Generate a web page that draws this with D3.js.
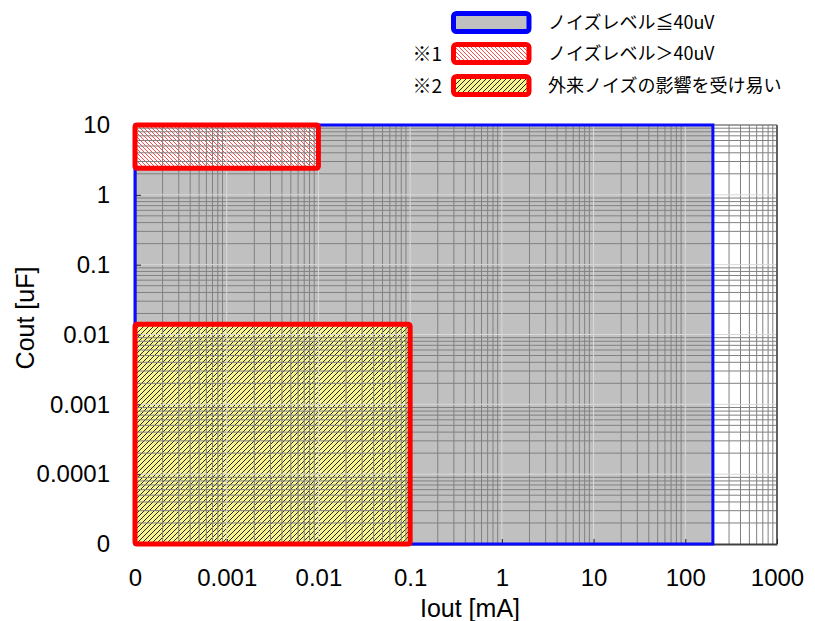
<!DOCTYPE html>
<html>
<head>
<meta charset="utf-8">
<script src="https://cdnjs.cloudflare.com/ajax/libs/d3/7.8.5/d3.min.js"></script>
<style>
  body { margin: 0; background: #fff; }
  text { font-family: "Liberation Sans", Arial, sans-serif; }
  text.jp { font-family: "Noto Sans CJK JP", sans-serif; }
</style>
</head>
<body>
<div id="chart"></div>
<script>

// x axis: Iout [mA], y axis: Cout [uF] (lowest decade is labelled "0")
var xTickValues = [0.0001, 0.001, 0.01, 0.1, 1, 10, 100, 1000];
var xTickLabels = ["0", "0.001", "0.01", "0.1", "1", "10", "100", "1000"];
var yTickValues = [0.00001, 0.0001, 0.001, 0.01, 0.1, 1, 10];
var yTickLabels = ["0", "0.0001", "0.001", "0.01", "0.1", "1", "10"];

// regions: [x0, x1, y0, y1]
var regionQuiet = [0.0001, 200, 0.00001, 10];       // ノイズレベル≦40uV
var regionNoisy = [0.0001, 0.01, 2.4, 10];          // ノイズレベル＞40uV
var regionExternal = [0.0001, 0.1, 0.00001, 0.014]; // 外来ノイズの影響を受け易い

var legendLabels = ["ノイズレベル≦40uV", "ノイズレベル＞40uV", "外来ノイズの影響を受け易い"];
var legendNotes = ["", "※1", "※2"];

var W = 815, H = 621;
var margin = { top: 125, right: 38, bottom: 77, left: 135 };

var svg = d3.select("#chart").append("svg")
    .attr("width", W)
    .attr("height", H);

var x = d3.scaleLog()
    .domain([0.0001, 1000])
    .range([margin.left, W - margin.right]);

var y = d3.scaleLog()
    .domain([0.00001, 10])
    .range([H - margin.bottom, margin.top]);

// patterns
var defs = svg.append("defs");

var pRed = defs.append("pattern")
    .attr("id", "hatchRed")
    .attr("patternUnits", "userSpaceOnUse")
    .attr("width", 4).attr("height", 4);
pRed.append("rect").attr("width", 4).attr("height", 4).attr("fill", "#fff");
pRed.append("path")
    .attr("d", "M-1,-1 L5,5 M-1,3 L1,5 M3,-1 L5,1")
    .attr("stroke", "#ff2020")
    .attr("stroke-width", 0.8);

var pYel = defs.append("pattern")
    .attr("id", "hatchYellow")
    .attr("patternUnits", "userSpaceOnUse")
    .attr("width", 5).attr("height", 5);
pYel.append("rect").attr("width", 5).attr("height", 5).attr("fill", "#f8f490");
pYel.append("path")
    .attr("d", "M-1,6 L6,-1 M-1,1 L1,-1 M4,6 L6,4")
    .attr("stroke", "#111")
    .attr("stroke-width", 0.9);

function regionRect(sel, r) {
    return sel
        .attr("x", x(r[0]))
        .attr("y", y(r[3]))
        .attr("width", x(r[1]) - x(r[0]))
        .attr("height", y(r[2]) - y(r[3]));
}

// fills
regionRect(svg.append("rect"), regionQuiet).attr("fill", "#c0c0c0");
regionRect(svg.append("rect"), regionNoisy).attr("fill", "url(#hatchRed)");
regionRect(svg.append("rect"), regionExternal).attr("fill", "url(#hatchYellow)");

// grid - minor lines darker, decade lines lighter
var xMinor = [], yMinor = [];
for (var d = -4; d < 3; d++) {
    for (var k = 2; k <= 9; k++) xMinor.push(k * Math.pow(10, d));
}
for (var d = -5; d < 1; d++) {
    for (var k = 2; k <= 9; k++) yMinor.push(k * Math.pow(10, d));
}

var grid = svg.append("g");

grid.selectAll(".vminor").data(xMinor).enter().append("line")
    .attr("x1", d => x(d)).attr("x2", d => x(d))
    .attr("y1", margin.top).attr("y2", H - margin.bottom)
    .attr("stroke", "#808080").attr("stroke-width", 1);

grid.selectAll(".hminor").data(yMinor).enter().append("line")
    .attr("y1", d => y(d)).attr("y2", d => y(d))
    .attr("x1", margin.left).attr("x2", W - margin.right)
    .attr("stroke", "#808080").attr("stroke-width", 1);

grid.selectAll(".vmajor").data(xTickValues.slice(1, -1)).enter().append("line")
    .attr("x1", d => x(d)).attr("x2", d => x(d))
    .attr("y1", margin.top).attr("y2", H - margin.bottom)
    .attr("stroke", "#d8d8d8").attr("stroke-width", 1);

grid.selectAll(".hmajor").data(yTickValues.slice(1, -1)).enter().append("line")
    .attr("y1", d => y(d)).attr("y2", d => y(d))
    .attr("x1", margin.left).attr("x2", W - margin.right)
    .attr("stroke", "#d8d8d8").attr("stroke-width", 1);

// frame
svg.append("line")
    .attr("x1", margin.left).attr("x2", W - margin.right)
    .attr("y1", margin.top).attr("y2", margin.top)
    .attr("stroke", "#808080").attr("stroke-width", 1.5);
svg.append("line")
    .attr("x1", W - margin.right).attr("x2", W - margin.right)
    .attr("y1", margin.top).attr("y2", H - margin.bottom)
    .attr("stroke", "#606060").attr("stroke-width", 2);

// axes
var xAxis = d3.axisBottom(x)
    .tickValues(xTickValues)
    .tickFormat((d, i) => xTickLabels[i])
    .tickSizeInner(-5).tickSizeOuter(0).tickPadding(25);

var yAxis = d3.axisLeft(y)
    .tickValues(yTickValues)
    .tickFormat((d, i) => yTickLabels[i])
    .tickSizeInner(-6).tickSizeOuter(0).tickPadding(25);

var gx = svg.append("g")
    .attr("transform", "translate(0," + (H - margin.bottom) + ")")
    .call(xAxis);
gx.select(".domain").attr("stroke", "#404040").attr("stroke-width", 2);
gx.selectAll(".tick line").attr("stroke", "#222");
gx.selectAll("text").style("font-size", "24px").attr("fill", "#000")
    .style("font-family", "'Liberation Sans', Arial, sans-serif");

var gy = svg.append("g")
    .attr("transform", "translate(" + margin.left + ",0)")
    .call(yAxis);
gy.select(".domain").attr("stroke", "#404040").attr("stroke-width", 2);
gy.selectAll(".tick line").attr("stroke", "#222");
gy.selectAll("text").style("font-size", "24px").attr("fill", "#000")
    .style("font-family", "'Liberation Sans', Arial, sans-serif");

// region borders on top
regionRect(svg.append("rect"), regionQuiet)
    .attr("fill", "none").attr("stroke", "#0a0aff").attr("stroke-width", 3);
regionRect(svg.append("rect"), regionNoisy)
    .attr("fill", "none").attr("stroke", "#ff0000").attr("stroke-width", 5)
    .attr("rx", 2);
regionRect(svg.append("rect"), regionExternal)
    .attr("fill", "none").attr("stroke", "#ff0000").attr("stroke-width", 5)
    .attr("rx", 2);

// axis titles
svg.append("text")
    .attr("x", 470).attr("y", 617)
    .attr("text-anchor", "middle")
    .style("font-size", "25px")
    .text("Iout [mA]");

svg.append("text")
    .attr("transform", "translate(34," + 318 + ") rotate(-90)")
    .attr("text-anchor", "middle")
    .style("font-size", "25px")
    .text("Cout [uF]");

// legend
var legendFills = ["#c0c0c0", "url(#hatchRed)", "url(#hatchYellow)"];
var legendStrokes = ["#0000ff", "#ff0000", "#ff0000"];
var legendY = [22.5, 53.5, 85.5];

var legend = svg.append("g");
legendLabels.forEach(function(lbl, i) {
    legend.append("rect")
        .attr("x", 453.5).attr("y", legendY[i] - 9)
        .attr("width", 75.5).attr("height", 18)
        .attr("rx", 3)
        .attr("fill", legendFills[i])
        .attr("stroke", legendStrokes[i])
        .attr("stroke-width", 5);
    legend.append("text")
        .attr("class", "jp")
        .attr("x", 548).attr("y", legendY[i])
        .attr("dy", "0.35em")
        .style("font-size", "18px")
        .text(lbl);
    if (legendNotes[i]) {
        legend.append("text")
            .attr("class", "jp")
            .attr("x", 442).attr("y", legendY[i])
            .attr("dy", "0.38em")
            .attr("text-anchor", "end")
            .style("font-size", "19px")
            .text(legendNotes[i]);
    }
});

</script>
</body>
</html>
